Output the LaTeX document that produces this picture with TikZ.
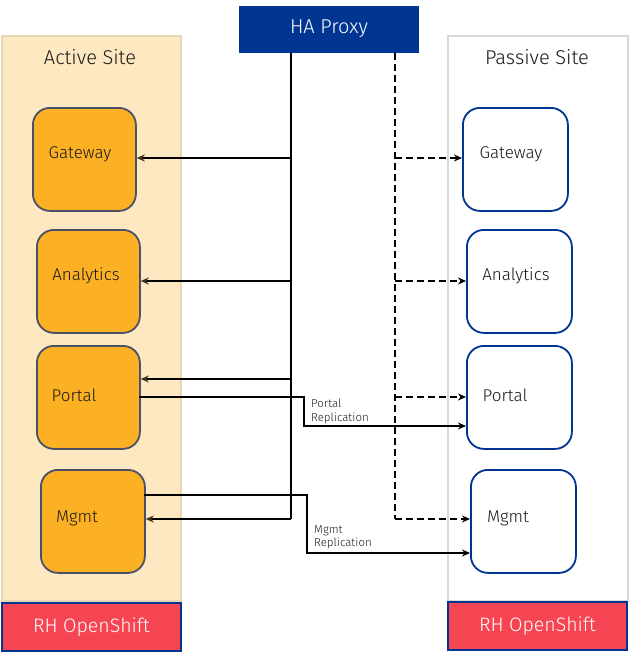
\documentclass[tikz,border=0pt]{standalone}
\usepackage{fontspec}
\setmainfont{Fira Sans Light}
\usetikzlibrary{arrows.meta}
\definecolor{ibmblue}{HTML}{003591}
\definecolor{sitefill}{HTML}{FEE8C1}
\definecolor{siteedge}{HTML}{E8D6B4}
\definecolor{actfill}{HTML}{FCB124}
\definecolor{actedge}{HTML}{4A5166}
\definecolor{rhred}{HTML}{F54452}
\definecolor{greyedge}{HTML}{D9D9D9}
\definecolor{tipbrown}{HTML}{3B3220}
\tikzset{
  site/.style={draw=#1, line width=1.5pt, anchor=north west, inner sep=0pt},
  actbox/.style={draw=actedge, fill=actfill, line width=1.8pt, rounded corners=17pt, minimum width=103pt, minimum height=103pt, anchor=north west},
  pasbox/.style={draw=ibmblue, fill=white, line width=1.8pt, rounded corners=17pt, minimum width=105pt, minimum height=103pt, anchor=north west},
  rhbox/.style={draw=ibmblue, fill=rhred, line width=2pt, minimum width=179pt, minimum height=48pt, anchor=north west, text=white, font=\fontsize{19.5}{23}\selectfont},
  lbl/.style={font=\fontsize{17}{20}\selectfont, text=black!90},
  title/.style={font=\fontsize{20}{24}\selectfont, text=black!90},
  small/.style={font=\fontsize{11.5}{13.5}\selectfont, align=left, anchor=north west, inner sep=0pt, text=black!90},
  act/.style={line width=1.8pt, -{Stealth[length=8pt,width=7pt,color=tipbrown]}},
  pas/.style={line width=1.8pt, dash pattern=on 7pt off 4pt, -{Stealth[length=8pt,width=7pt]}},
  rep/.style={line width=1.8pt, -{Stealth[length=8pt,width=7pt]}}
}
\begin{document}
\begin{tikzpicture}[x=1pt,y=-1pt]
\useasboundingbox (0,0) rectangle (629,657);
% sites
\node[site=siteedge, fill=sitefill, minimum width=179pt, minimum height=565pt] (asite) at (1,35) {};
\node[site=greyedge, fill=white, minimum width=180pt, minimum height=565pt] (psite) at (447,35) {};
\node[title] (atitle) at (90,57) {Active Site};
\node[title] (ptitle) at (537,57) {Passive Site};
% HA proxy
\node[fill=ibmblue, minimum width=180pt, minimum height=47pt, anchor=north west, inner sep=0pt] (ha) at (239,6) {};
\node[text=white, font=\fontsize{20}{24}\selectfont] (hat) at (329,29) {HA Proxy};
% active nodes
\node[actbox] (ag) at (32,107) {};
\node[actbox] (aa) at (36,229) {};
\node[actbox] (ap) at (36,345) {};
\node[actbox, minimum width=104pt] (am) at (40,469) {};
\node[lbl] at (80,154) {Gateway};
\node[lbl] at (86,276) {Analytics};
\node[lbl] at (74,395) {Portal};
\node[lbl] at (77,518) {Mgmt};
% passive nodes
\node[pasbox] (pg) at (462,107) {};
\node[pasbox] (pa) at (466,229) {};
\node[pasbox] (pp) at (466,345) {};
\node[pasbox] (pm) at (470,469) {};
\node[lbl] at (511,154) {Gateway};
\node[lbl] at (516,276) {Analytics};
\node[lbl] at (505,395) {Portal};
\node[lbl] at (508,518) {Mgmt};
% RH OpenShift
\node[rhbox] (rh1) at (1,602) {RH OpenShift};
\node[rhbox] (rh2) at (447,601) {RH OpenShift};
% coordinates
\coordinate (s0) at (291,53);
\coordinate (s1) at (291,158);
\coordinate (s2) at (291,281);
\coordinate (s3) at (291,379);
\coordinate (s4) at (291,519);
\coordinate (d0) at (395,53);
\coordinate (d1) at (395,158);
\coordinate (d2) at (395,281);
\coordinate (d3) at (395,397);
\coordinate (d4) at (395,519);
% active solid connectors
\draw[line width=1.8pt] (s0) -- (s4);
\draw[act] (s1) -- (ag.east |- s1);
\draw[act] (s2) -- (aa.east |- s2);
\draw[act] (s3) -- (ap.east |- s3);
\draw[act] (s4) -- (am.east |- s4);
% passive dashed connectors
\draw[line width=1.8pt, dash pattern=on 7pt off 4pt] (d0) -- (d4);
\draw[pas] (d1) -- (pg.west |- d1);
\draw[pas] (d2) -- (pa.west |- d2);
\draw[pas] (d3) -- (pp.west |- d3);
\draw[pas] (d4) -- (pm.west |- d4);
% replication
\coordinate (pr1) at (139,397);
\coordinate (pr2) at (304,397);
\coordinate (pr3) at (304,426);
\draw[rep] (pr1) -- (pr2) -- (pr3) -- (pp.west |- pr3);
\node[small] (prl) at (311,399) {Portal\\Replication};
\coordinate (mr1) at (144,495);
\coordinate (mr2) at (307,495);
\coordinate (mr3) at (307,553);
\draw[rep] (mr1) -- (mr2) -- (mr3) -- (pm.west |- mr3);
\node[small] (mrl) at (314,525) {Mgmt\\Replication};
\end{tikzpicture}
\end{document}
